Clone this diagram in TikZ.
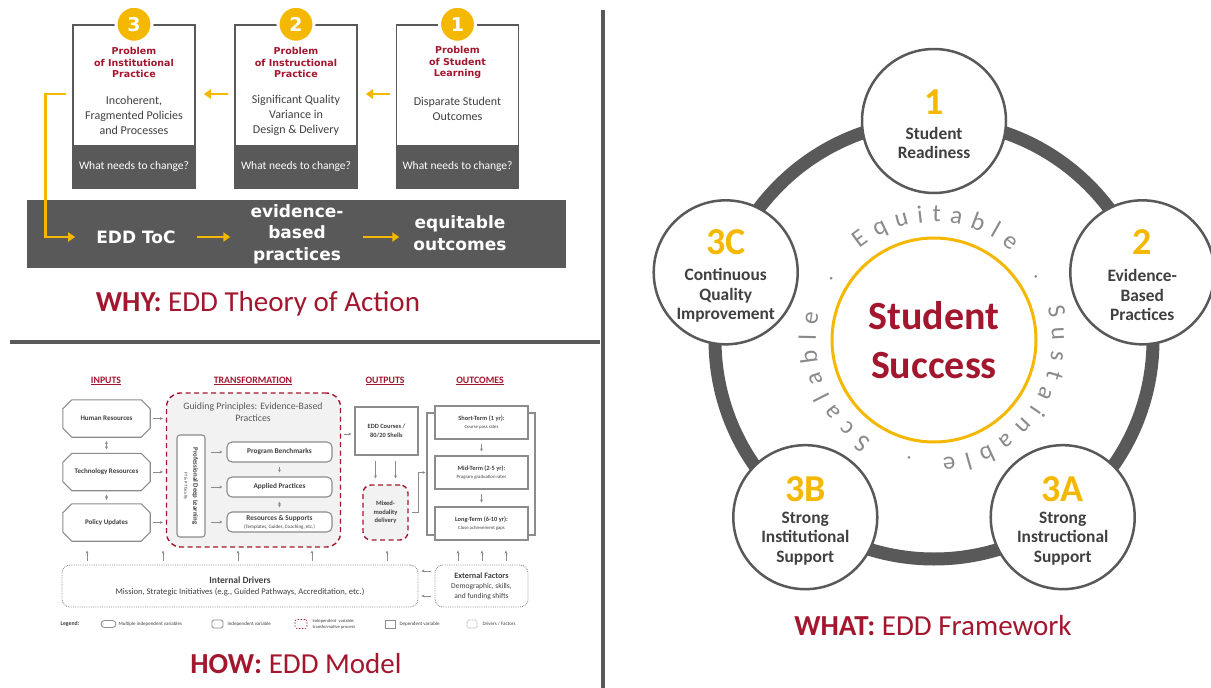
\documentclass[tikz,border=0pt]{standalone}
\usepackage{fontspec}
\setmainfont{Carlito}
\newfontfamily\vfont{DejaVu Sans}
\usetikzlibrary{arrows.meta,calc,decorations.text,positioning}

\definecolor{crim}{HTML}{A3172E}
\definecolor{gold}{HTML}{F5B800}
\definecolor{dgray}{HTML}{595959}
\definecolor{tgray}{HTML}{404040}
\definecolor{lgray}{HTML}{8C8C8C}
\definecolor{cgray}{HTML}{8A8A8A}
\definecolor{fillg}{HTML}{F2F2F2}

\newcommand\fs[2]{\fontsize{#1}{#2}\selectfont}
% octagon round an input node
\newcommand\chamf[1]{\draw[inline] ([xshift=9pt]#1.north west) -- ([xshift=-9pt]#1.north east) -- ([yshift=-9pt]#1.north east) -- ([yshift=9pt]#1.south east) -- ([xshift=-9pt]#1.south east) -- ([xshift=9pt]#1.south west) -- ([yshift=9pt]#1.south west) -- ([yshift=-9pt]#1.north west) -- cycle;}

\tikzset{
  probbox/.style={draw=dgray, line width=1.5pt, minimum width=122pt, minimum height=163pt, inner sep=0pt},
  needbar/.style={fill=dgray, minimum width=122pt, minimum height=43pt, inner sep=0pt, text=white, font=\fs{11.5}{14}},
  numdot/.style={circle, fill=gold, draw=white, line width=3pt, minimum size=36pt, inner sep=0pt, text=white, font=\vfont\bfseries\fs{19}{19}},
  probtitle/.style={align=center, text=crim, font=\vfont\bfseries\fs{9.5}{11.8}, inner sep=0pt},
  probtext/.style={align=center, text=tgray, font=\fs{12}{14.8}, inner sep=0pt},
  bandtext/.style={align=center, text=white, font=\vfont\bfseries\fs{17}{21.5}, inner sep=0pt},
  garrow/.style={draw=gold, line width=2.6pt, -{Triangle[length=7pt,width=9pt]}},
  divider/.style={draw=dgray, line width=4pt},
  ttl/.style={anchor=base, text=crim, font=\fs{29}{34}, inner sep=0pt},
  hdr/.style={anchor=base, text=crim, font=\bfseries\fs{9.8}{11}, inner sep=0pt},
  inline/.style={draw=lgray, line width=1.1pt},
  inlabel/.style={minimum width=87pt, minimum height=37pt, inner sep=0pt, text=tgray, font=\bfseries\fs{7}{8.5}},
  sarr/.style={draw=lgray, line width=.6pt, -{Stealth[length=3pt,width=3pt]}},
  darr/.style={draw=lgray, line width=.6pt, {Stealth[length=3pt,width=3pt]}-{Stealth[length=3pt,width=3pt]}},
  dashreg/.style={draw=crim, line width=1.4pt, dash pattern=on 5pt off 3.5pt, fill=fillg, rounded corners=14pt, inner sep=0pt},
  pdlbox/.style={draw=lgray, line width=1.1pt, fill=white, rounded corners=3pt, minimum width=102pt, minimum height=28pt, inner sep=0pt, align=center, text=tgray, font=\bfseries\fs{6.8}{8}},
  prac/.style={draw=lgray, line width=1.1pt, fill=white, rounded corners=5pt, minimum width=105pt, minimum height=20pt, inner sep=0pt, align=center, text=tgray, font=\bfseries\fs{7.3}{8}},
  outbox/.style={draw=lgray, line width=1.1pt, fill=white, inner sep=0pt, align=center, text=tgray, font=\bfseries\fs{6.4}{8.5}},
  drvbox/.style={draw=lgray, line width=.9pt, dash pattern=on .8pt off 1pt, rounded corners=8pt, minimum height=42pt, inner sep=0pt, align=center, text=tgray},
  leg/.style={text=tgray, font=\fs{5}{6}, inner sep=0pt, align=left},
  ring/.style={draw=dgray, line width=13pt},
  fw/.style={circle, draw=dgray, line width=2.5pt, fill=white, minimum size=144pt, inner sep=0pt},
  cnum/.style={text=gold, font=\bfseries\fs{38}{40}, inner sep=0pt},
  clab/.style={align=center, text=tgray, font=\bfseries\fs{17.4}{19.5}, inner sep=0pt},
  curvy/.style={decorate, decoration={text along path, text align={fit to path}, text={|\color{cgray}\fs{25}{25}|#1}}},
}

\begin{document}
\begin{tikzpicture}[x=1pt, y=1pt]
  \fill[white] (0,0) rectangle (1211,-688);
  \useasboundingbox (0,0) rectangle (1211,-688);

  %%%%% WHY %%%%%
  \node[needbar] (w3) at (134,-166.5) {What needs to change?};
  \node[needbar] (w2) at (296,-166.5) {What needs to change?};
  \node[needbar] (w1) at (457.5,-166.5) {What needs to change?};
  \node[probbox] (b3) at (134,-106.5) {};
  \node[probbox] (b2) at (296,-106.5) {};
  \node[probbox] (b1) at (457.5,-106.5) {};
  \node[numdot] (n3) at (b3.north) {3};
  \node[numdot] (n2) at (b2.north) {2};
  \node[numdot] (n1) at (b1.north) {1};

  \node[probtitle] (t3) at (134,-62.5) {Problem\\of Institutional\\Practice};
  \node[probtitle] (t2) at (296,-62.5) {Problem\\of Instructional\\Practice};
  \node[probtitle] (t1) at (457.5,-62.5) {Problem\\of Student\\Learning};
  \node[probtext] (d3) at (134,-115.5) {Incoherent,\\Fragmented Policies\\and Processes};
  \node[probtext] (d2) at (296,-115.5) {Significant Quality\\Variance in\\Design \& Delivery};
  \node[probtext] (d1) at (457.5,-108.5) {Disparate Student\\Outcomes};

  \draw[garrow] ($(b1.west)+(-6,12.5)$) -- ($(b2.east)+(8,12.5)$);
  \draw[garrow] ($(b2.west)+(-6,12.5)$) -- ($(b3.east)+(8,12.5)$);

  \node[fill=dgray, minimum width=539pt, minimum height=68pt, inner sep=0pt] (band) at (296.5,-234) {};
  \node[bandtext] (toc) at (136,-237) {EDD ToC};
  \node[bandtext] (ebp) at (297,-234) {evidence-\\based\\practices};
  \node[bandtext] (eqo) at (460,-233) {equitable\\outcomes};
  \draw[garrow] ($(b3.west)+(-6,12.5)$) -- ++(-21,0) |- ($(toc.west)+(-21,0)$);
  \draw[garrow] ($(toc.east)+(21,0)$) -- ($(toc.east -| ebp.west)+(-20,0)$);
  \draw[garrow] ($(toc.east -| ebp.east)+(19,0)$) -- ($(toc.east -| eqo.west)+(-14,0)$);

  \node[ttl] (why) at (258,-311) {\textbf{WHY:} EDD Theory of Action};

  \draw[divider] (603,-10) -- (603,-688);
  \draw[divider] (10,-342) -- (600,-342);

  %%%%% HOW %%%%%
  \node[hdr] (hin) at (106,-383) {\underline{INPUTS}};
  \node[hdr] (htr) at (253,-383) {\underline{TRANSFORMATION}};
  \node[hdr] (hou) at (385,-383) {\underline{OUTPUTS}};
  \node[hdr] (hoc) at (480,-383) {\underline{OUTCOMES}};

  \node[inlabel] (hr) at (106.5,-418.5) {Human Resources};
  \node[inlabel] (tr) at (106.5,-472) {Technology Resources};
  \node[inlabel] (pu) at (106.5,-522.5) {Policy Updates};
  \foreach \n in {hr,tr,pu} {\chamf{\n}}
  \draw[darr] ([yshift=-4pt]hr.south) -- ([yshift=4pt]tr.north);
  \draw[darr] ([yshift=-4pt]tr.south) -- ([yshift=4pt]pu.north);

  \node[dashreg, minimum width=174pt, minimum height=154pt] (trf) at (253.5,-470) {};
  \foreach \n in {hr,tr,pu}
    \draw[sarr] ([xshift=3pt]\n.east) -- ($(\n.east -| trf.west)+(-3,0)$);
  \node[text=dgray, align=center, font=\fs{9.8}{11.5}, inner sep=0pt] (gp) at (253,-412) {Guiding Principles: Evidence-Based\\Practices};
  \node[pdlbox, rotate=-90] (pdl) at (191,-486) {Professional Deep Learning\\[1pt]{\mdseries\fs{4.5}{5}FT \& PT faculty}};
  \node[prac] (pb) at (279.5,-452) {Program Benchmarks};
  \node[prac] (ap) at (279.5,-487) {Applied Practices};
  \node[prac] (rs) at (279.5,-522) {Resources \& Supports\\{\mdseries\fs{5}{6}(Templates, Guides, Coaching, etc.)}};
  \foreach \n in {pb,ap,rs}
    \draw[sarr] ([xshift=-15pt]\n.west) -- ([xshift=-4pt]\n.west);
  \draw[sarr] ([yshift=-4pt]pb.south) -- ([yshift=4pt]ap.north);
  \draw[darr] ([yshift=-4pt]ap.south) -- ([yshift=4pt]rs.north);

  \node[outbox, minimum width=63pt, minimum height=48pt] (edd) at (386.5,-431) {EDD Courses /\\80/20 Shells};
  \draw[sarr] ($(trf.east |- edd.west)+(3,-3)$) -- ($(edd.west)+(-3,-3)$);
  \node[dashreg, rounded corners=8pt, minimum width=45pt, minimum height=55pt, align=center, text=tgray, font=\bfseries\fs{6.5}{8.5}] (mix) at (385.5,-512.5) {Mixed-\\modality\\delivery};
  \foreach \dx in {-11,9}
    \draw[sarr] ($(edd.south)+(\dx,-5)$) -- ($(edd.south |- mix.north)+(\dx,6)$);

  \draw[inline] (427,-413) rectangle (535,-535);
  \node[outbox, minimum width=93pt, minimum height=33pt] (st) at (481.5,-422.5) {Short-Term (1 yr):\\{\mdseries\fs{4.8}{6}Course pass rates}};
  \node[outbox, minimum width=93pt, minimum height=33pt] (mt) at (481.5,-472.5) {Mid-Term (2-5 yr):\\{\mdseries\fs{4.8}{6}Program graduation rates}};
  \node[outbox, minimum width=93pt, minimum height=33pt] (lt) at (481.5,-523.5) {Long-Term (6-10 yr):\\{\mdseries\fs{4.8}{6}Close achievement gaps}};
  \draw[sarr] ([yshift=-4pt]st.south) -- ([yshift=4pt]mt.north);
  \draw[sarr] ([yshift=-4pt]mt.south) -- ([yshift=4pt]lt.north);
  \draw[sarr] ([xshift=3pt]mix.east) -- ++(7,0) |- ($(mt.west)+(-9,0)$);

  \node[drvbox, minimum width=356pt, font=\fs{8.6}{11}] (idr) at (240,-586) {{\bfseries\fs{9.5}{11}Internal Drivers}\\Mission, Strategic Initiatives (e.g., Guided Pathways, Accreditation, etc.)};
  \node[drvbox, minimum width=93pt, font=\fs{7.5}{9.8}] (ext) at (481.5,-586) {{\bfseries\fs{8.2}{9.8}External Factors}\\Demographic, skills,\\and funding shifts};
  \draw[sarr] ($(ext.west)+(-4,15)$) -- ($(idr.east)+(3,15)$);
  \draw[sarr] ($(ext.west)+(-4,-10)$) -- ($(idr.east)+(3,-10)$);
  \foreach \dx in {-153,-77,-2,72,147}
    \draw[sarr] ($(idr.north)+(\dx,4)$) -- ++(0,10);
  \foreach \dx in {-23.5,0.5,24.5}
    \draw[sarr] ($(ext.north)+(\dx,4)$) -- ++(0,10);

  % legend
  \node[leg, font=\bfseries\fs{5.8}{7}] (lgd) at (70,-624) {Legend:};
  \node[draw=lgray, line width=.8pt, rounded corners=3.5pt, minimum width=15pt, minimum height=7pt, inner sep=0pt] (lg1) at (108.5,-624) {};
  \node[leg, right=2pt of lg1] (lx1) {Multiple independent variables};
  \node[draw=lgray, line width=.8pt, rounded corners=1.5pt, minimum width=11pt, minimum height=8pt, inner sep=0pt] (lg2) at (217.5,-624) {};
  \node[leg, right=4pt of lg2] (lx2) {Independent variable};
  \node[draw=crim, line width=.6pt, dash pattern=on 1.5pt off 1.5pt, rounded corners=2pt, minimum width=12pt, minimum height=9pt, inner sep=0pt] (lg3) at (301,-624) {};
  \node[leg, right=5pt of lg3, font=\fs{4.6}{5.6}] (lx3) {Independent\ \ variable;\\transformative process};
  \node[draw=lgray, line width=.8pt, minimum width=10pt, minimum height=8pt, inner sep=0pt] (lg4) at (390,-624) {};
  \node[leg, right=4pt of lg4] (lx4) {Dependent variable};
  \node[draw=lgray, line width=.6pt, dash pattern=on .6pt off .8pt, rounded corners=1.5pt, minimum width=10pt, minimum height=8pt, inner sep=0pt] (lg5) at (472,-624) {};
  \node[leg, right=5pt of lg5] (lx5) {Drivers / Factors};

  \node[ttl] (how) at (296,-673) {\textbf{HOW:} EDD Model};

  %%%%% WHAT %%%%%
  \coordinate (ctr) at (934,-340);
  \draw[ring] (ctr) circle (219pt);
  \foreach \a/\n in {90/c1,18/c2,-54/c3a,-126/c3b,162/c3c}
    \node[fw] (\n) at ($(ctr)+(\a:219pt)$) {};

  \node[cnum] (k1) at ([yshift=19pt]c1.center) {1};
  \node[clab] (l1) at ([yshift=-22pt]c1.center) {Student\\Readiness};
  \node[cnum] (k2) at ([yshift=30pt]c2.center) {2};
  \node[clab] (l2) at ([yshift=-23pt]c2.center) {Evidence-\\Based\\Practices};
  \node[cnum] (k3a) at ([yshift=28pt]c3a.center) {3A};
  \node[clab] (l3a) at ([yshift=-21pt]c3a.center) {Strong\\Instructional\\Support};
  \node[cnum] (k3b) at ([yshift=28pt]c3b.center) {3B};
  \node[clab] (l3b) at ([yshift=-21pt]c3b.center) {Strong\\Institutional\\Support};
  \node[cnum] (k3c) at ([yshift=30pt]c3c.center) {3C};
  \node[clab] (l3c) at ([yshift=-23pt]c3c.center) {Continuous\\Quality\\Improvement};

  \draw[gold, line width=3pt] (ctr) circle (102pt);
  \node[align=center, text=crim, font=\bfseries\fs{40}{49}, inner sep=0pt] (succ) at (ctr) {Student\\Success};

  \path[curvy=Equitable] ($(ctr)+(129:118pt)$) arc (129:49:118pt);
  \path[curvy=Sustainable] ($(ctr)+(16:118pt)$) arc (16:-86:118pt);
  \path[curvy=Scalable] ($(ctr)+(238:118pt)$) arc (238:167:118pt);
  \foreach \a in {32,149,258}
    \fill[cgray] ($(ctr)+(\a:120pt)$) circle (1.5pt);

  \node[ttl] (what) at (933,-635) {\textbf{WHAT:} EDD Framework};
\end{tikzpicture}
\end{document}
